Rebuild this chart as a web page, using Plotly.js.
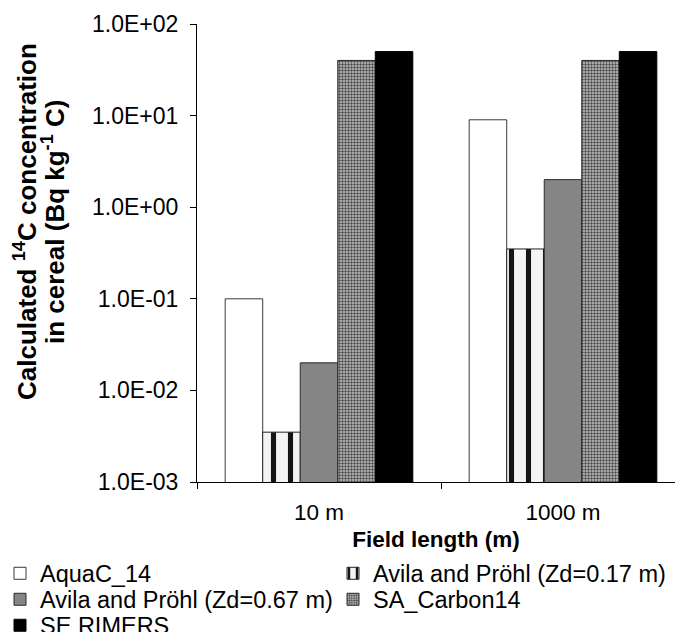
<!DOCTYPE html>
<html>
<head>
<meta charset="utf-8">
<script src="https://cdn.plot.ly/plotly-3.0.1.min.js"></script>
<style>html,body{margin:0;padding:0;background:#fff;}#chart{width:675px;height:632px;}</style>
</head>
<body>
<div id="chart"></div>
<script>
// Data
const categories = ["10 m", "1000 m"];
const seriesNames = ["AquaC_14", "Avila and Pröhl (Zd=0.17 m)", "Avila and Pröhl (Zd=0.67 m)", "SA_Carbon14", "SE RIMERS"];
const aquaC14 = [0.1, 9.0];
const avilaZd017 = [0.0035, 0.35];
const avilaZd067 = [0.02, 2.0];
const saCarbon14 = [40, 40];
const seRimers = [50, 50];
const yTickVals = [0.001, 0.01, 0.1, 1, 10, 100];
const yTickText = ["1.0E-03", "1.0E-02", "1.0E-01", "1.0E+00", "1.0E+01", "1.0E+02"];
const yTitleLines = ["<b>Calculated <sup>14</sup>C concentration</b>", "<b>in cereal (Bq kg<sup>-1</sup> C)</b>"];
const xTitle = "<b>Field length (m)</b>";

const FONT = "Liberation Sans, Arial, sans-serif";
const values = [aquaC14, avilaZd017, avilaZd067, saCarbon14, seRimers];
const markers = [
  {color: "#ffffff", line: {color: "#3a3a3a", width: 1}},
  {color: "#ffffff", line: {color: "#222", width: 1},
   pattern: {shape: "|", fgcolor: "#151515", bgcolor: "#f4f4f4", size: 17, solidity: 0.3}},
  {color: "#858585", line: {color: "#2a2a2a", width: 1}},
  {color: "#9a9a9a", line: {color: "#2a2a2a", width: 1},
   pattern: {shape: ".", fgcolor: "#4a4a4a", bgcolor: "#c4c4c4", size: 3, solidity: 0.5}},
  {color: "#000000", line: {color: "#000000", width: 1}}
];
// one legend entry per legend box so the two-column, tight-row layout can be matched
const legendIds = ["legend", "legend2", "legend3", "legend4", "legend5"];

const traces = seriesNames.map((name, i) => ({
  type: "bar",
  name: name,
  x: categories,
  y: values[i],
  marker: markers[i],
  legend: legendIds[i],
  hoverinfo: "x+y+name"
}));

const W = 675, H = 632;
const M = {l: 197, r: 0, t: 24, b: 150};
const plotW = W - M.l - M.r, plotH = H - M.t - M.b;
function legendBox(textX, rowCenter) {
  return {
    orientation: "h",
    xref: "container", yref: "container",
    x: Math.max(0, (textX - 40) / W), xanchor: "left",
    y: 1 - (rowCenter - 21.5) / H, yanchor: "top",
    font: {family: FONT, size: 23.5, color: "#000000"},
    bgcolor: "rgba(0,0,0,0)",
    borderwidth: 0,
    itemwidth: 30
  };
}
function yTitle(text, cx, cy) {
  return {
    text: text, textangle: -90, showarrow: false,
    xref: "paper", yref: "paper",
    x: (cx - M.l) / plotW, y: (H - M.b - cy) / plotH,
    xanchor: "center", yanchor: "middle",
    font: {family: FONT, size: 26, color: "#000000"}
  };
}

const layout = {
  width: W,
  height: H,
  paper_bgcolor: "#ffffff",
  plot_bgcolor: "#ffffff",
  margin: {l: M.l, r: M.r, t: M.t, b: M.b, pad: 0},
  barmode: "group",
  bargap: 0.231,
  bargroupgap: 0,
  font: {family: FONT, color: "#000000", size: 22},
  xaxis: {
    type: "category",
    range: [-0.5, 1.459],
    tickson: "boundaries",
    ticks: "outside",
    ticklen: 6,
    tickcolor: "#000000",
    showline: true,
    linecolor: "#000000",
    linewidth: 1,
    showgrid: false,
    zeroline: false,
    tickfont: {family: FONT, size: 22.5, color: "#000000"},
    ticklabelstandoff: 10,
    title: {text: xTitle, font: {family: FONT, size: 22.5, color: "#000000"}, standoff: 10}
  },
  yaxis: {
    type: "log",
    range: [-3, 2],
    tickvals: yTickVals,
    ticktext: yTickText,
    ticks: "outside",
    ticklen: 6,
    tickcolor: "#000000",
    showline: true,
    linecolor: "#000000",
    linewidth: 1,
    showgrid: false,
    zeroline: false,
    tickfont: {family: FONT, size: 23, color: "#000000"},
    ticklabelstandoff: 7
  },
  annotations: [
    yTitle(yTitleLines[0], 25, 222),
    yTitle(yTitleLines[1], 53, 222)
  ],
  showlegend: true,
  legend: legendBox(40, 573),
  legend2: legendBox(373, 573),
  legend3: legendBox(40, 599),
  legend4: legendBox(373, 599),
  legend5: legendBox(40, 625)
};

Plotly.newPlot("chart", traces, layout, {displayModeBar: false, staticPlot: true});
</script>
</body>
</html>
